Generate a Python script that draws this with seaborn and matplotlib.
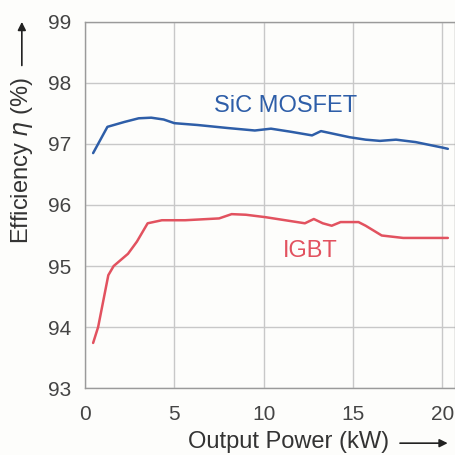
import pandas as pd
import matplotlib
matplotlib.use("Agg")
import matplotlib.pyplot as plt
import seaborn as sns

# Data
sic_power = [0.45, 1.25, 2.2, 3.0, 3.7, 4.4, 5.0, 6.3, 8.0, 9.5, 10.4, 11.5, 12.7, 13.2, 14.0, 14.8, 15.7, 16.5, 17.4, 18.5, 20.0, 20.3]
sic_eff = [96.85, 97.28, 97.36, 97.42, 97.43, 97.40, 97.34, 97.31, 97.26, 97.22, 97.25, 97.2, 97.14, 97.21, 97.16, 97.11, 97.07, 97.05, 97.07, 97.03, 96.94, 96.92]

igbt_power = [0.45, 0.73, 1.3, 1.6, 2.4, 2.9, 3.5, 4.3, 5.6, 7.5, 8.2, 9.0, 10.1, 11.2, 12.3, 12.8, 13.3, 13.8, 14.3, 15.3, 15.7, 16.6, 17.8, 19.0, 20.0, 20.3]
igbt_eff = [93.74, 94.0, 94.85, 95.0, 95.2, 95.4, 95.7, 95.75, 95.75, 95.78, 95.85, 95.84, 95.8, 95.75, 95.7, 95.77, 95.7, 95.66, 95.72, 95.72, 95.66, 95.5, 95.46, 95.46, 95.46, 95.46]

x_ticks = [0, 5, 10, 15, 20]
y_ticks = [93, 94, 95, 96, 97, 98, 99]

df = pd.concat([
    pd.DataFrame({"power": sic_power, "eff": sic_eff, "device": "SiC MOSFET"}),
    pd.DataFrame({"power": igbt_power, "eff": igbt_eff, "device": "IGBT"}),
])

sns.set_style("whitegrid")
plt.rcParams['font.family'] = ['Liberation Sans', 'DejaVu Sans']

fig = plt.figure(figsize=(4.55, 4.55), dpi=100)
fig.patch.set_facecolor("#fdfdfb")
ax = fig.add_axes([0.187, 0.147, 0.813, 0.805])
ax.set_facecolor("#fdfdfb")

palette = {"SiC MOSFET": "#2e5ea8", "IGBT": "#e2525f"}
sns.lineplot(data=df, x="power", y="eff", hue="device", palette=palette,
             linewidth=1.8, legend=False, ax=ax, sort=False)

ax.set_xlim(0, 20.7)
ax.set_ylim(93, 99)
ax.set_xticks(x_ticks)
ax.set_yticks(y_ticks)
ax.grid(True, color="#c8c8c8", linewidth=1.0)
for s in ax.spines.values():
    s.set_color("#9a9a9a")
    s.set_linewidth(1.0)
ax.tick_params(labelsize=15, colors="#444444", length=0)
ax.tick_params(axis="y", pad=10)
ax.tick_params(axis="x", pad=12)
ax.set_xlabel("")
ax.set_ylabel("")

ax.text(11.2, 97.62, "SiC MOSFET", color="#2e5ea8", fontsize=17, ha="center", va="center")
ax.text(12.6, 95.25, "IGBT", color="#e2525f", fontsize=17, ha="center", va="center")

# axis labels with arrows
fig.text(0.635, 0.028, "Output Power (kW)", fontsize=17, color="#333333",
         ha="center", va="center")
ax.annotate("", xy=(0.99, 0.026), xytext=(0.873, 0.026), xycoords="figure fraction",
            arrowprops=dict(arrowstyle="-|>", color="#222222", lw=1.2, mutation_scale=12))
fig.text(0.048, 0.646, "Efficiency $\\eta$ (%)", fontsize=17, color="#333333",
         ha="center", va="center", rotation=90)
ax.annotate("", xy=(0.048, 0.958), xytext=(0.048, 0.85), xycoords="figure fraction",
            arrowprops=dict(arrowstyle="-|>", color="#222222", lw=1.2, mutation_scale=12))

fig.savefig("out.png", dpi=100)
